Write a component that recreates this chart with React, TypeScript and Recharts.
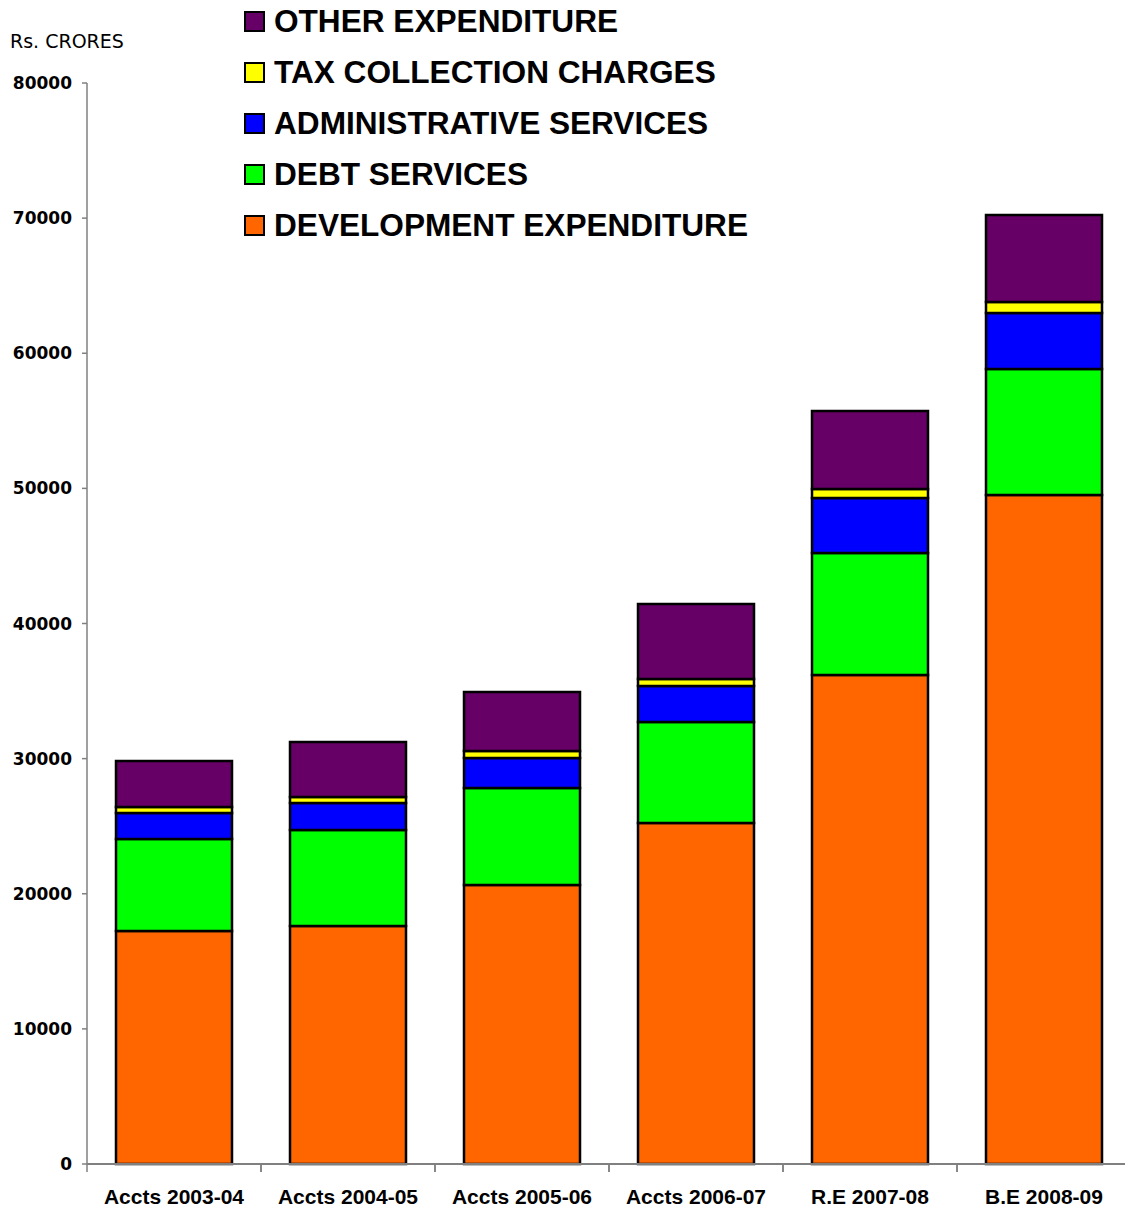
import React from "react";
import { BarChart, Bar, XAxis, YAxis, Legend } from "recharts";

const categories = ["Accts 2003-04", "Accts 2004-05", "Accts 2005-06", "Accts 2006-07", "R.E 2007-08", "B.E 2008-09"];
const development = [17240, 17610, 20650, 25240, 36190, 49510];
const debt = [6810, 7110, 7180, 7470, 9030, 9320];
const admin = [1930, 2000, 2220, 2660, 4070, 4150];
const tax = [440, 440, 510, 520, 660, 810];
const other = [3400, 4070, 4370, 5550, 5780, 6440];
const yTicks = [0, 10000, 20000, 30000, 40000, 50000, 60000, 70000, 80000];

const series = [
  { key: "development", name: "DEVELOPMENT EXPENDITURE", color: "#FF6600" },
  { key: "debt", name: "DEBT SERVICES", color: "#00FF00" },
  { key: "admin", name: "ADMINISTRATIVE SERVICES", color: "#0000FF" },
  { key: "tax", name: "TAX COLLECTION CHARGES", color: "#FFFF00" },
  { key: "other", name: "OTHER EXPENDITURE", color: "#660066" },
];

const chartData = categories.map((c, i) => ({
  name: c,
  development: development[i],
  debt: debt[i],
  admin: admin[i],
  tax: tax[i],
  other: other[i],
}));

// category labels centred, tick marks on the band boundaries
const CategoryTick = (props: any) => {
  const { x, y, payload } = props;
  const half = payload?.offset ?? 87;
  return (
    <g>
      <line x1={x - half} x2={x - half} y1={y - 25} y2={y - 17} stroke="#808080" strokeWidth={1.5} />
      <line x1={x + half} x2={x + half} y1={y - 25} y2={y - 17} stroke="#808080" strokeWidth={1.5} />
      <text
        x={x}
        y={y}
        dy="0.71em"
        textAnchor="middle"
        fontFamily="'Liberation Sans', Arial, sans-serif"
        fontWeight="bold"
        fontSize={21}
        fill="#000"
      >
        {payload.value}
      </text>
    </g>
  );
};

const LegendBox = () => (
  <div style={{ position: "absolute", left: 244, top: 0 }}>
    {[...series].reverse().map((s, i) => (
      <div
        key={s.key}
        style={{
          position: "absolute",
          top: 21 + i * 51 - 20,
          left: 0,
          height: 40,
          display: "flex",
          alignItems: "center",
          whiteSpace: "nowrap",
        }}
      >
        <div
          style={{
            width: 17,
            height: 17,
            background: s.color,
            border: "2px solid #000",
            marginRight: 9,
          }}
        />
        <span
          style={{
            fontFamily: "'Liberation Sans', Arial, sans-serif",
            fontWeight: "bold",
            fontSize: 31.6,
            color: "#000",
          }}
        >
          {s.name}
        </span>
      </div>
    ))}
  </div>
);

export default function App() {
  return (
    <div
      style={{
        position: "absolute",
        left: 0,
        top: 0,
        width: 1125,
        height: 1211,
        overflow: "hidden",
        background: "#fff",
      }}
    >
      <BarChart
        width={1131}
        height={1211}
        data={chartData}
        margin={{ top: 83, right: 0, left: 0, bottom: 0 }}
        barSize={116}
      >
        <XAxis
          dataKey="name"
          height={47}
          tickLine={false}
          tickSize={8}
          tickMargin={17}
          axisLine={{ stroke: "#808080", strokeWidth: 2 }}
          tick={<CategoryTick />}
          interval={0}
        />
        <YAxis
          width={87}
          domain={[0, 80000]}
          ticks={yTicks}
          interval={0}
          tickSize={5}
          tickMargin={10}
          axisLine={{ stroke: "#808080", strokeWidth: 1.5 }}
          tickLine={{ stroke: "#808080", strokeWidth: 1.5 }}
          tick={{ fontFamily: "'DejaVu Sans', Verdana, sans-serif", fontWeight: "bold", fontSize: 17, fill: "#000" }}
        />
        {series.map((s) => (
          <Bar
            key={s.key}
            dataKey={s.key}
            name={s.name}
            stackId="a"
            fill={s.color}
            stroke="#000"
            strokeWidth={2.5}
            isAnimationActive={false}
          />
        ))}
        <Legend content={() => null} />
      </BarChart>
      <div
        style={{
          position: "absolute",
          left: 10,
          top: 30,
          fontFamily: "'DejaVu Sans', Verdana, sans-serif",
          fontSize: 19,
          color: "#000",
          whiteSpace: "nowrap",
        }}
      >
        Rs. CRORES
      </div>
      <LegendBox />
    </div>
  );
}
